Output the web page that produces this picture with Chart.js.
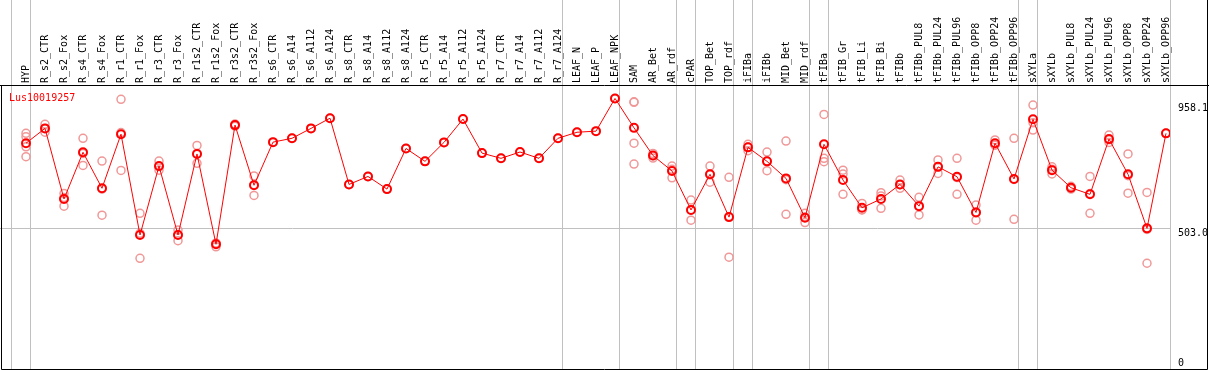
<!DOCTYPE html>
<html>
<head>
<meta charset="utf-8">
<script src="https://cdn.jsdelivr.net/npm/chart.js@4"></script>
<style>
  html, body { margin: 0; padding: 0; background: #fff; }
  canvas { display: block; }
</style>
</head>
<body>
<canvas id="geneChart" width="1209" height="370"></canvas>
<script>
const geneName = 'Lus10019257';

const categories = [
    'HYP', 'R_s2_CTR', 'R_s2_Fox', 'R_s4_CTR', 'R_s4_Fox', 'R_r1_CTR', 'R_r1_Fox',
    'R_r3_CTR', 'R_r3_Fox', 'R_r1s2_CTR', 'R_r1s2_Fox', 'R_r3s2_CTR', 'R_r3s2_Fox',
    'R_s6_CTR', 'R_s6_A14', 'R_s6_A112', 'R_s6_A124', 'R_s8_CTR', 'R_s8_A14',
    'R_s8_A112', 'R_s8_A124', 'R_r5_CTR', 'R_r5_A14', 'R_r5_A112', 'R_r5_A124',
    'R_r7_CTR', 'R_r7_A14', 'R_r7_A112', 'R_r7_A124', 'LEAF_N', 'LEAF_P', 'LEAF_NPK',
    'SAM', 'AR_Bet', 'AR_rdf', 'cPAR', 'TOP_Bet', 'TOP_rdf', 'iFIBa', 'iFIBb',
    'MID_Bet', 'MID_rdf', 'tFIBa', 'tFIB_Gr', 'tFIB_Li', 'tFIB_Bi', 'tFIBb',
    'tFIBb_PUL8', 'tFIBb_PUL24', 'tFIBb_PUL96', 'tFIBb_OPP8', 'tFIBb_OPP24', 'tFIBb_OPP96',
    'sXYLa', 'sXYLb', 'sXYLb_PUL8', 'sXYLb_PUL24', 'sXYLb_PUL96', 'sXYLb_OPP8',
    'sXYLb_OPP24', 'sXYLb_OPP96'
];

// mean expression per sample (red line)
const means = [
    812, 866, 609, 779, 648, 845, 478, 729, 478, 773, 444, 878, 659,
    816, 830, 866, 903, 662, 691, 645, 793, 746, 815, 900, 776,
    757, 780, 757, 830, 852, 856, 975,
    868, 767, 711, 569, 699, 543, 797, 746, 684, 541,
    808, 678, 577, 609, 662, 583, 726, 690, 560, 812, 682,
    899, 714, 650, 626, 827, 699, 502, 848
];

// single replicates (pale circles)
const replicates = [
    [848, 836, 799, 763], [881, 866, 852], [629, 614, 583], [830, 775, 731],
    [747, 645, 550], [972, 851, 713], [557, 484, 393], [747, 726, 714],
    [496, 480, 457], [804, 775, 739], [448, 448, 435], [882, 878, 874],
    [693, 661, 622], [816], [830], [866], [903], [662], [691], [645], [793],
    [746], [815], [900], [776], [757], [780], [757], [830], [852], [856], [975],
    [963, 961, 812, 736], [775, 766, 758], [729, 717, 686], [605, 569, 532],
    [729, 697, 670], [688, 545, 397], [808, 798, 785], [780, 746, 712],
    [820, 679, 553], [557, 543, 523], [917, 757, 745], [714, 700, 626],
    [593, 570, 569], [632, 620, 575], [678, 661, 648], [615, 584, 551],
    [751, 726, 702], [757, 687, 626], [587, 562, 532], [824, 806, 805],
    [830, 680, 535], [951, 887, 860], [726, 717, 700], [655, 650, 645],
    [691, 629, 557], [842, 825, 815], [773, 694, 630], [633, 498, 375], [848]
];

// y tick values shown on the right
const yTicks = [0, 503.0, 958.1];
const yTickLabels = ['0', '503.0', '958.1'];
const yGridValue = 503.0;

// sample groups end after these indexes (-1 = before the first one)
const groupBreaks = [-1, 0, 28, 31, 34, 35, 37, 38, 41, 42, 52, 53, 60];

const monoFont = '"DejaVu Sans Mono", monospace';

const meanPoints = means.map((v, i) => ({ x: i, y: v }));
const replicatePoints = [];
replicates.forEach((reps, i) => {
    reps.forEach(v => replicatePoints.push({ x: i, y: v }));
});

// frame, group separators, gene name and y labels
const decorations = {
    id: 'decorations',
    beforeDatasetsDraw(chart) {
        const ctx = chart.ctx;
        const xs = chart.scales.x;
        ctx.save();
        ctx.strokeStyle = '#c0c0c0';
        ctx.lineWidth = 1;
        groupBreaks.forEach(i => {
            const px = Math.round(xs.getPixelForValue(i) + 4) + 0.5;
            ctx.beginPath();
            ctx.moveTo(px, 0);
            ctx.lineTo(px, chart.height);
            ctx.stroke();
        });
        ctx.restore();
    },
    afterDraw(chart) {
        const ctx = chart.ctx;
        const area = chart.chartArea;
        const ys = chart.scales.y;
        ctx.save();
        ctx.strokeStyle = '#000';
        ctx.lineWidth = 1;
        ctx.beginPath();
        ctx.moveTo(0, area.top + 0.5);
        ctx.lineTo(chart.width, area.top + 0.5);
        ctx.moveTo(1.5, area.top);
        ctx.lineTo(1.5, area.bottom + 0.5);
        ctx.lineTo(chart.width - 1.5, area.bottom + 0.5);
        ctx.lineTo(chart.width - 1.5, 0);
        ctx.stroke();

        ctx.font = '10px ' + monoFont;
        ctx.fillStyle = '#ff0000';
        ctx.textBaseline = 'alphabetic';
        ctx.textAlign = 'left';
        ctx.fillText(geneName, 9, area.top + 16);

        ctx.fillStyle = '#000';
        ctx.textBaseline = 'top';
        yTicks.forEach((v, k) => {
            const py = Math.min(ys.getPixelForValue(v), area.bottom - 11);
            ctx.fillText(yTickLabels[k], area.right + 8, py);
        });
        ctx.restore();
    }
};

new Chart(document.getElementById('geneChart'), {
    type: 'line',
    data: {
        datasets: [{
            label: 'mean',
            data: meanPoints,
            borderColor: '#ff0000',
            borderWidth: 1,
            pointRadius: 4,
            pointBorderWidth: 2,
            pointBorderColor: '#ff0000',
            pointBackgroundColor: 'rgba(0,0,0,0)',
            tension: 0,
            fill: false
        }, {
            label: 'replicates',
            type: 'scatter',
            data: replicatePoints,
            showLine: false,
            pointRadius: 4,
            pointBorderWidth: 1.5,
            pointBorderColor: '#f09898',
            pointBackgroundColor: 'rgba(0,0,0,0)'
        }]
    },
    options: {
        responsive: false,
        animation: false,
        layout: {
            autoPadding: false,
            padding: { left: 0, right: 0, top: 0, bottom: 1 }
        },
        plugins: {
            legend: { display: false },
            tooltip: { enabled: false },
            title: { display: false }
        },
        scales: {
            x: {
                type: 'linear',
                position: 'top',
                min: -26 / 19,
                max: (1170 - 26) / 19,
                grid: { display: false, drawTicks: false },
                border: { display: false },
                afterBuildTicks: scale => {
                    scale.ticks = categories.map((c, i) => ({ value: i }));
                },
                afterFit: scale => {
                    scale.height = 85;
                    scale.paddingLeft = 0;
                    scale.paddingRight = 0;
                },
                ticks: {
                    autoSkip: false,
                    minRotation: 90,
                    maxRotation: 90,
                    padding: 2,
                    labelOffset: 12,
                    color: '#000',
                    font: { family: monoFont, size: 10 },
                    callback: value => categories[value]
                }
            },
            y: {
                type: 'linear',
                position: 'right',
                min: -10,
                max: 1024,
                grid: {
                    drawTicks: false,
                    color: ctx => (ctx.tick && ctx.tick.value === yGridValue) ? '#c0c0c0' : 'rgba(0,0,0,0)'
                },
                border: { display: false },
                afterBuildTicks: scale => {
                    scale.ticks = yTicks.map(v => ({ value: v }));
                },
                afterFit: scale => {
                    scale.width = 39;
                    scale.paddingTop = 0;
                    scale.paddingBottom = 0;
                },
                ticks: { display: false }
            }
        }
    },
    plugins: [decorations]
});
</script>
</body>
</html>
